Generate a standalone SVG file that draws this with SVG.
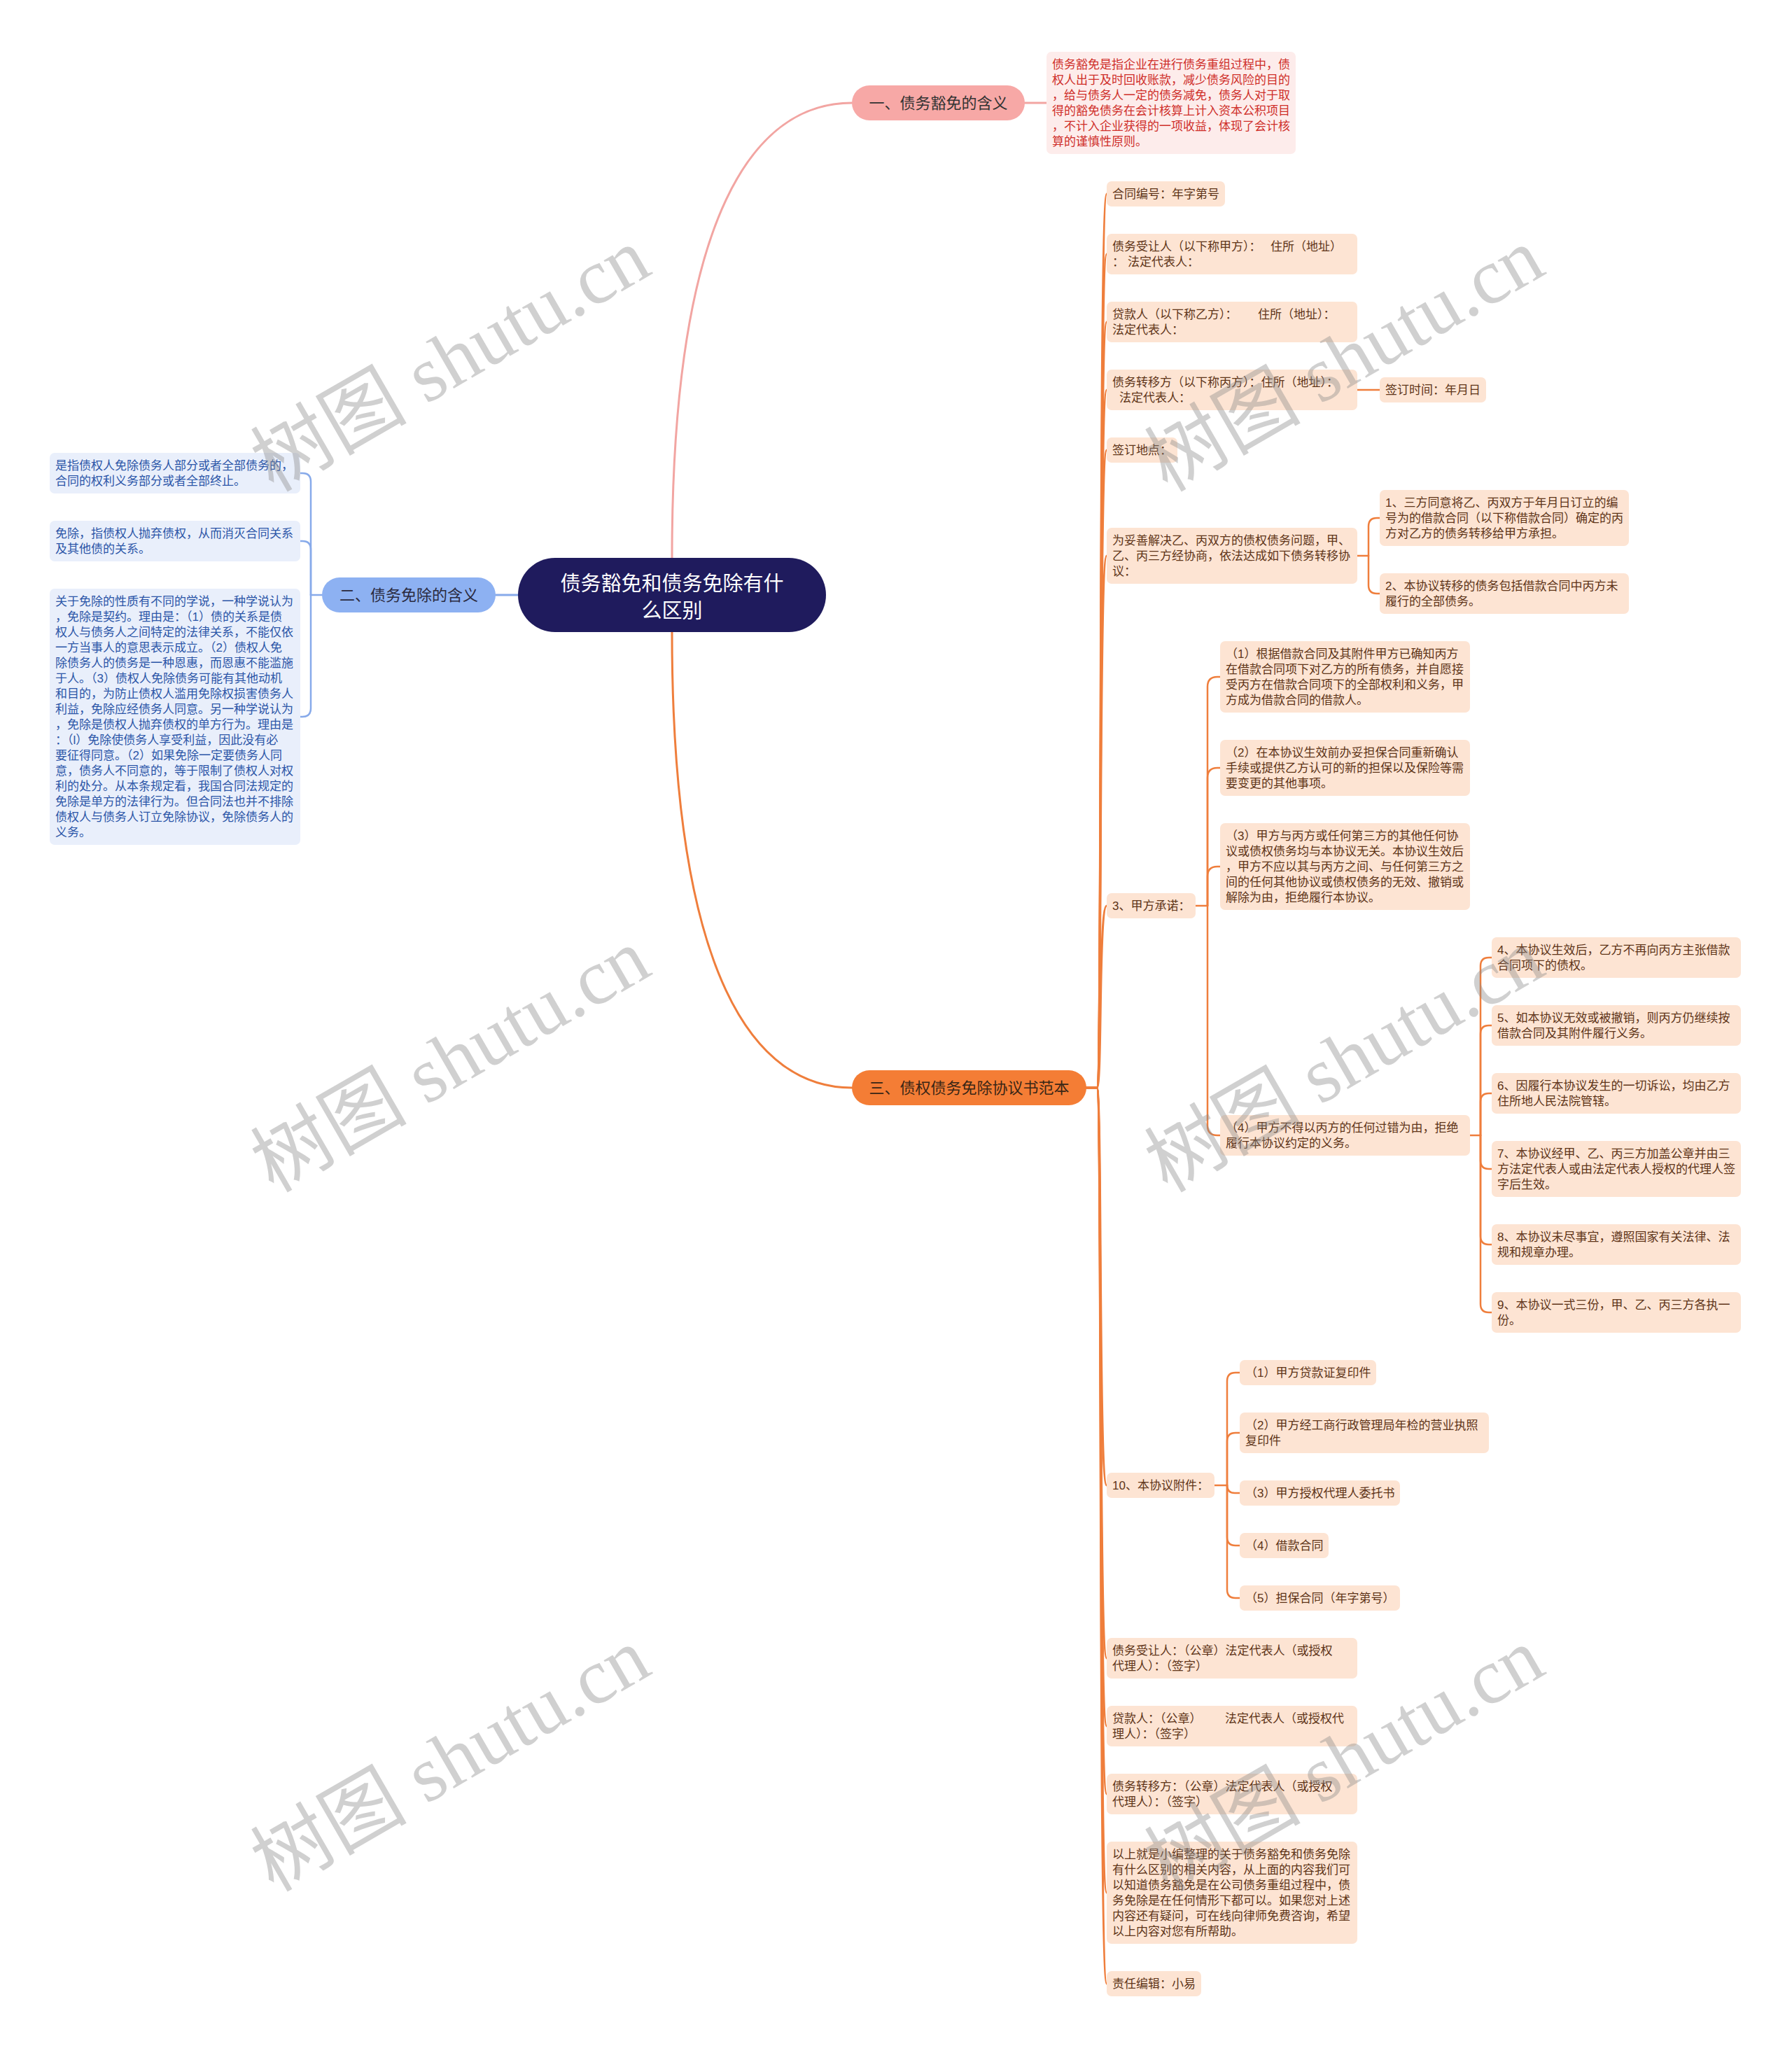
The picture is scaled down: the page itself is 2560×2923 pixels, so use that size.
<svg xmlns="http://www.w3.org/2000/svg" width="2560" height="2923" viewBox="0 0 2560 2923">
<style>
.t{font-family:"Liberation Sans","Noto Sans CJK SC",sans-serif;font-size:17px}
.L1 text{font-family:"Liberation Sans","Noto Sans CJK SC",sans-serif;font-size:22px;text-anchor:middle}
.o rect{fill:#fde4d3}.o text{fill:#5e3418}
.b rect{fill:#e9effb}.b text{fill:#2c56a8}
.r rect{fill:#fdeceb}.r text{fill:#cf2f2a}
.c path{fill:none;stroke-linecap:round;stroke-linejoin:round}
.co path{stroke:#ef7e3c;stroke-width:2.5}
.wm text{font-family:"Liberation Serif","Noto Sans CJK SC",serif;font-size:112px;fill:#8a8a8a;fill-opacity:0.4;text-anchor:middle}
</style>
<rect width="2560" height="2923" fill="#ffffff"/>

<g id="connectors" class="c">
  <path d="M960 797 C960 300 1080 147 1217 147" stroke="#f2a5a2" stroke-width="3"/>
  <path d="M1464 147 H1495" stroke="#f2a5a2" stroke-width="3"/>
  <path d="M740 850 H708" stroke="#87aaea" stroke-width="3"/>
  <g stroke="#87aaea" stroke-width="2.5">
    <path d="M460 850 H444"/>
    <path d="M444 850 V688 Q444 676 432 676 H429"/>
    <path d="M444 850 V785 Q444 773 432 773 H429"/>
    <path d="M444 850 V1012 Q444 1024 432 1024 H429"/>
  </g>
  <path d="M960 903 C960 1400 1080 1554 1217 1554" stroke="#ef7e3c" stroke-width="3"/>
  <g stroke="#ef7e3c" stroke-width="3">
    <path d="M1552 1554 H1567 C1575 1554 1569 277 1581 277"/>
    <path d="M1552 1554 H1567 C1575 1554 1569 363 1581 363"/>
    <path d="M1552 1554 H1567 C1575 1554 1569 460 1581 460"/>
    <path d="M1552 1554 H1567 C1575 1554 1569 557 1581 557"/>
    <path d="M1552 1554 H1567 C1575 1554 1569 643 1581 643"/>
    <path d="M1552 1554 H1567 C1575 1554 1569 794 1581 794"/>
    <path d="M1552 1554 H1567 C1575 1554 1569 1294 1581 1294"/>
    <path d="M1552 1554 H1567 C1575 1554 1569 2122 1581 2122"/>
    <path d="M1552 1554 H1567 C1575 1554 1569 2369 1581 2369"/>
    <path d="M1552 1554 H1567 C1575 1554 1569 2466 1581 2466"/>
    <path d="M1552 1554 H1567 C1575 1554 1569 2563 1581 2563"/>
    <path d="M1552 1554 H1567 C1575 1554 1569 2704 1581 2704"/>
    <path d="M1552 1554 H1567 C1575 1554 1569 2834 1581 2834"/>
  </g>
  <g class="co">
    <path d="M1939 557 H1971"/>
    <path d="M1939 794 H1955"/>
    <path d="M1955 794 V752 Q1955 740 1967 740 H1971"/>
    <path d="M1955 794 V836 Q1955 848 1967 848 H1971"/>
    <path d="M1708 1294 H1725"/>
    <path d="M1725 1294 V981 Q1725 967 1739 967 H1743"/>
    <path d="M1725 1294 V1111 Q1725 1097 1739 1097 H1743"/>
    <path d="M1725 1294 V1252 Q1725 1238 1739 1238 H1743"/>
    <path d="M1725 1294 V1608 Q1725 1622 1739 1622 H1743"/>
    <path d="M2100 1622 H2115"/>
    <path d="M2115 1622 V1380 Q2115 1368 2127 1368 H2131"/>
    <path d="M2115 1622 V1477 Q2115 1465 2127 1465 H2131"/>
    <path d="M2115 1622 V1574 Q2115 1562 2127 1562 H2131"/>
    <path d="M2115 1622 V1658 Q2115 1670 2127 1670 H2131"/>
    <path d="M2115 1622 V1766 Q2115 1778 2127 1778 H2131"/>
    <path d="M2115 1622 V1863 Q2115 1875 2127 1875 H2131"/>
    <path d="M1735 2122 H1753"/>
    <path d="M1753 2122 V1973 Q1753 1961 1765 1961 H1771"/>
    <path d="M1753 2122 V2059 Q1753 2047 1765 2047 H1771"/>
    <path d="M1753 2122 Q1753 2133 1764 2133 H1771"/>
    <path d="M1753 2122 V2196 Q1753 2208 1765 2208 H1771"/>
    <path d="M1753 2122 V2271 Q1753 2283 1765 2283 H1771"/>
  </g>
</g>

<g id="root">
  <rect x="740" y="797" width="440" height="106" rx="53" fill="#1f1b5d"/>
  <text x="960" y="844" font-family="Liberation Sans,Noto Sans CJK SC,sans-serif" font-size="29" fill="#ffffff" text-anchor="middle">债务豁免和债务免除有什<tspan x="960" y="883">么区别</tspan></text>
</g>

<g id="b1" class="L1">
  <rect x="1217" y="122" width="247" height="50" rx="25" fill="#f7a8a6"/>
  <text x="1340.5" y="155" fill="#333333">一、债务豁免的含义</text>
</g>
<g id="b2" class="L1">
  <rect x="460" y="825" width="248" height="50" rx="25" fill="#8db1f2"/>
  <text x="584" y="858" fill="#2a2a3e">二、债务免除的含义</text>
</g>
<g id="b3" class="L1">
  <rect x="1217" y="1529" width="335" height="50" rx="25" fill="#f47d35"/>
  <text x="1384.5" y="1562" fill="#3a2616">三、债权债务免除协议书范本</text>
</g>

<g id="note1" class="r">
  <rect x="1495" y="74" width="356" height="146" rx="7"/>
  <text class="t" x="1503" y="98">债务豁免是指企业在进行债务重组过程中，债<tspan x="1503" y="120">权人出于及时回收账款，减少债务风险的目的</tspan><tspan x="1503" y="142">，给与债务人一定的债务减免，债务人对于取</tspan><tspan x="1503" y="164">得的豁免债务在会计核算上计入资本公积项目</tspan><tspan x="1503" y="186">，不计入企业获得的一项收益，体现了会计核</tspan><tspan x="1503" y="208">算的谨慎性原则。</tspan></text>
</g>

<g id="l1" class="b">
  <rect x="71" y="647" width="358" height="58" rx="7"/>
  <text class="t" x="79" y="671">是指债权人免除债务人部分或者全部债务的，<tspan x="79" y="693">合同的权利义务部分或者全部终止。</tspan></text>
</g>
<g id="l2" class="b">
  <rect x="71" y="744" width="358" height="58" rx="7"/>
  <text class="t" x="79" y="768">免除，指债权人抛弃债权，从而消灭合同关系<tspan x="79" y="790">及其他债的关系。</tspan></text>
</g>
<g id="l3" class="b">
  <rect x="71" y="841" width="358" height="366" rx="7"/>
  <text class="t" x="79" y="865">关于免除的性质有不同的学说，一种学说认为<tspan x="79" y="887">，免除是契约。理由是：（1）债的关系是债</tspan><tspan x="79" y="909">权人与债务人之间特定的法律关系，不能仅依</tspan><tspan x="79" y="931">一方当事人的意思表示成立。（2）债权人免</tspan><tspan x="79" y="953">除债务人的债务是一种恩惠，而恩惠不能滥施</tspan><tspan x="79" y="975">于人。（3）债权人免除债务可能有其他动机</tspan><tspan x="79" y="997">和目的，为防止债权人滥用免除权损害债务人</tspan><tspan x="79" y="1019">利益，免除应经债务人同意。另一种学说认为</tspan><tspan x="79" y="1041">，免除是债权人抛弃债权的单方行为。理由是</tspan><tspan x="79" y="1063">：（l）免除使债务人享受利益，因此没有必</tspan><tspan x="79" y="1085">要征得同意。（2）如果免除一定要债务人同</tspan><tspan x="79" y="1107">意，债务人不同意的，等于限制了债权人对权</tspan><tspan x="79" y="1129">利的处分。从本条规定看，我国合同法规定的</tspan><tspan x="79" y="1151">免除是单方的法律行为。但合同法也并不排除</tspan><tspan x="79" y="1173">债权人与债务人订立免除协议，免除债务人的</tspan><tspan x="79" y="1195">义务。</tspan></text>
</g>

<g id="c1" class="o"><rect x="1581" y="259" width="169" height="36" rx="7"/><text class="t" x="1589" y="283">合同编号：年字第号</text></g>
<g id="c2" class="o"><rect x="1581" y="334" width="358" height="58" rx="7"/><text class="t" x="1589" y="358">债务受让人（以下称甲方）：<tspan x="1815">住所（地址）</tspan><tspan x="1589" y="380">：</tspan><tspan x="1611">法定代表人：</tspan></text></g>
<g id="c3" class="o"><rect x="1581" y="431" width="358" height="58" rx="7"/><text class="t" x="1589" y="455">贷款人（以下称乙方）：<tspan x="1797">住所（地址）：</tspan><tspan x="1589" y="477">法定代表人：</tspan></text></g>
<g id="c4" class="o"><rect x="1581" y="528" width="358" height="58" rx="7"/><text class="t" x="1589" y="552">债务转移方（以下称丙方）：住所（地址）：<tspan x="1599" y="574">法定代表人：</tspan></text></g>
<g id="c4a" class="o"><rect x="1971" y="539" width="152" height="36" rx="7"/><text class="t" x="1979" y="563">签订时间：年月日</text></g>
<g id="c5" class="o"><rect x="1581" y="625" width="101" height="36" rx="7"/><text class="t" x="1589" y="649">签订地点：</text></g>
<g id="c6" class="o"><rect x="1581" y="754" width="358" height="80" rx="7"/><text class="t" x="1589" y="778">为妥善解决乙、丙双方的债权债务问题，甲、<tspan x="1589" y="800">乙、丙三方经协商，依法达成如下债务转移协</tspan><tspan x="1589" y="822">议：</tspan></text></g>
<g id="c6a" class="o"><rect x="1971" y="700" width="356" height="80" rx="7"/><text class="t" x="1979" y="724">1、三方同意将乙、丙双方于年月日订立的编<tspan x="1979" y="746">号为的借款合同（以下称借款合同）确定的丙</tspan><tspan x="1979" y="768">方对乙方的债务转移给甲方承担。</tspan></text></g>
<g id="c6b" class="o"><rect x="1971" y="819" width="356" height="58" rx="7"/><text class="t" x="1979" y="843">2、本协议转移的债务包括借款合同中丙方未<tspan x="1979" y="865">履行的全部债务。</tspan></text></g>
<g id="c7" class="o"><rect x="1581" y="1276" width="127" height="36" rx="7"/><text class="t" x="1589" y="1300">3、甲方承诺：</text></g>
<g id="c7a" class="o"><rect x="1743" y="916" width="357" height="102" rx="7"/><text class="t" x="1751" y="940">（1）根据借款合同及其附件甲方已确知丙方<tspan x="1751" y="962">在借款合同项下对乙方的所有债务，并自愿接</tspan><tspan x="1751" y="984">受丙方在借款合同项下的全部权利和义务，甲</tspan><tspan x="1751" y="1006">方成为借款合同的借款人。</tspan></text></g>
<g id="c7b" class="o"><rect x="1743" y="1057" width="357" height="80" rx="7"/><text class="t" x="1751" y="1081">（2）在本协议生效前办妥担保合同重新确认<tspan x="1751" y="1103">手续或提供乙方认可的新的担保以及保险等需</tspan><tspan x="1751" y="1125">要变更的其他事项。</tspan></text></g>
<g id="c7c" class="o"><rect x="1743" y="1176" width="357" height="124" rx="7"/><text class="t" x="1751" y="1200">（3）甲方与丙方或任何第三方的其他任何协<tspan x="1751" y="1222">议或债权债务均与本协议无关。本协议生效后</tspan><tspan x="1751" y="1244">，甲方不应以其与丙方之间、与任何第三方之</tspan><tspan x="1751" y="1266">间的任何其他协议或债权债务的无效、撤销或</tspan><tspan x="1751" y="1288">解除为由，拒绝履行本协议。</tspan></text></g>
<g id="c7d" class="o"><rect x="1743" y="1593" width="357" height="58" rx="7"/><text class="t" x="1751" y="1617">（4）甲方不得以丙方的任何过错为由，拒绝<tspan x="1751" y="1639">履行本协议约定的义务。</tspan></text></g>
<g id="d4" class="o"><rect x="2131" y="1339" width="356" height="58" rx="7"/><text class="t" x="2139" y="1363">4、本协议生效后，乙方不再向丙方主张借款<tspan x="2139" y="1385">合同项下的债权。</tspan></text></g>
<g id="d5" class="o"><rect x="2131" y="1436" width="356" height="58" rx="7"/><text class="t" x="2139" y="1460">5、如本协议无效或被撤销，则丙方仍继续按<tspan x="2139" y="1482">借款合同及其附件履行义务。</tspan></text></g>
<g id="d6" class="o"><rect x="2131" y="1533" width="356" height="58" rx="7"/><text class="t" x="2139" y="1557">6、因履行本协议发生的一切诉讼，均由乙方<tspan x="2139" y="1579">住所地人民法院管辖。</tspan></text></g>
<g id="d7" class="o"><rect x="2131" y="1630" width="356" height="80" rx="7"/><text class="t" x="2139" y="1654">7、本协议经甲、乙、丙三方加盖公章并由三<tspan x="2139" y="1676">方法定代表人或由法定代表人授权的代理人签</tspan><tspan x="2139" y="1698">字后生效。</tspan></text></g>
<g id="d8" class="o"><rect x="2131" y="1749" width="356" height="58" rx="7"/><text class="t" x="2139" y="1773">8、本协议未尽事宜，遵照国家有关法律、法<tspan x="2139" y="1795">规和规章办理。</tspan></text></g>
<g id="d9" class="o"><rect x="2131" y="1846" width="356" height="58" rx="7"/><text class="t" x="2139" y="1870">9、本协议一式三份，甲、乙、丙三方各执一<tspan x="2139" y="1892">份。</tspan></text></g>
<g id="c8" class="o"><rect x="1581" y="2104" width="154" height="36" rx="7"/><text class="t" x="1589" y="2128">10、本协议附件：</text></g>
<g id="e1" class="o"><rect x="1771" y="1943" width="195" height="36" rx="7"/><text class="t" x="1779" y="1967">（1）甲方贷款证复印件</text></g>
<g id="e2" class="o"><rect x="1771" y="2018" width="356" height="58" rx="7"/><text class="t" x="1779" y="2042">（2）甲方经工商行政管理局年检的营业执照<tspan x="1779" y="2064">复印件</tspan></text></g>
<g id="e3" class="o"><rect x="1771" y="2115" width="229" height="36" rx="7"/><text class="t" x="1779" y="2139">（3）甲方授权代理人委托书</text></g>
<g id="e4" class="o"><rect x="1771" y="2190" width="127" height="36" rx="7"/><text class="t" x="1779" y="2214">（4）借款合同</text></g>
<g id="e5" class="o"><rect x="1771" y="2265" width="229" height="36" rx="7"/><text class="t" x="1779" y="2289">（5）担保合同（年字第号）</text></g>
<g id="c9" class="o"><rect x="1581" y="2340" width="358" height="58" rx="7"/><text class="t" x="1589" y="2364">债务受让人：（公章）法定代表人（或授权<tspan x="1589" y="2386">代理人）：（签字）</tspan></text></g>
<g id="c10" class="o"><rect x="1581" y="2437" width="358" height="58" rx="7"/><text class="t" x="1589" y="2461">贷款人：（公章）<tspan x="1750">法定代表人（或授权代</tspan><tspan x="1589" y="2483">理人）：（签字）</tspan></text></g>
<g id="c11" class="o"><rect x="1581" y="2534" width="358" height="58" rx="7"/><text class="t" x="1589" y="2558">债务转移方：（公章）法定代表人（或授权<tspan x="1589" y="2580">代理人）：（签字）</tspan></text></g>
<g id="c12" class="o"><rect x="1581" y="2631" width="358" height="146" rx="7"/><text class="t" x="1589" y="2655">以上就是小编整理的关于债务豁免和债务免除<tspan x="1589" y="2677">有什么区别的相关内容，从上面的内容我们可</tspan><tspan x="1589" y="2699">以知道债务豁免是在公司债务重组过程中，债</tspan><tspan x="1589" y="2721">务免除是在任何情形下都可以。如果您对上述</tspan><tspan x="1589" y="2743">内容还有疑问，可在线向律师免费咨询，希望</tspan><tspan x="1589" y="2765">以上内容对您有所帮助。</tspan></text></g>
<g id="c13" class="o"><rect x="1581" y="2816" width="135" height="36" rx="7"/><text class="t" x="1589" y="2840">责任编辑：小易</text></g>

<g id="watermark" class="wm">
  <text x="643" y="552" transform="rotate(-30 643 513)">树图 shutu.cn</text>
  <text x="1920" y="552" transform="rotate(-30 1920 513)">树图 shutu.cn</text>
  <text x="643" y="1553" transform="rotate(-30 643 1514)">树图 shutu.cn</text>
  <text x="1920" y="1553" transform="rotate(-30 1920 1514)">树图 shutu.cn</text>
  <text x="643" y="2552" transform="rotate(-30 643 2513)">树图 shutu.cn</text>
  <text x="1920" y="2552" transform="rotate(-30 1920 2513)">树图 shutu.cn</text>
</g>
</svg>
